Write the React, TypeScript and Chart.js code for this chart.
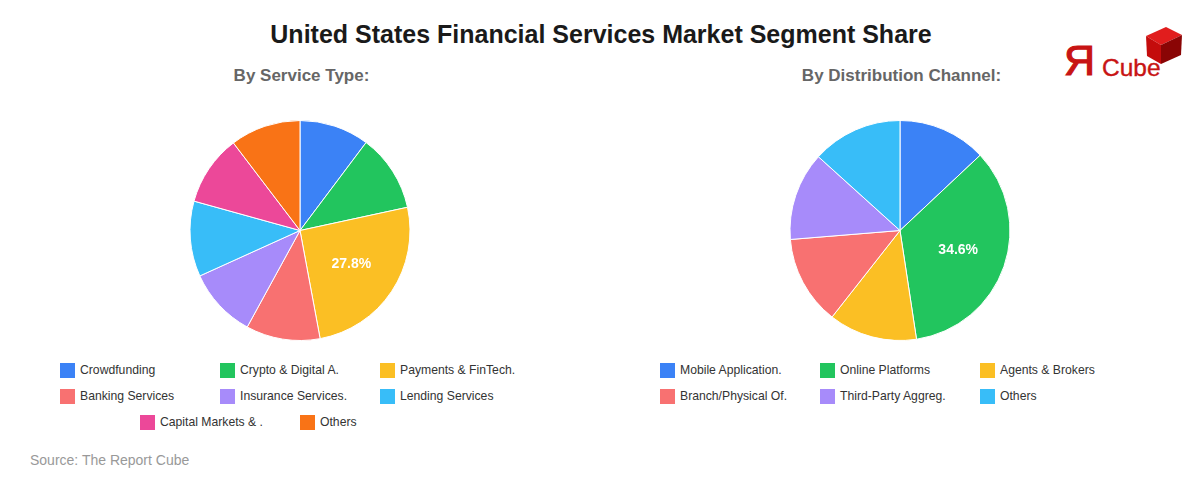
import React, { useEffect, useRef } from "react";
import { Chart, registerables } from "chart.js";

Chart.register(...registerables);

const serviceLabels = [
  "Crowdfunding",
  "Crypto & Digital A.",
  "Payments & FinTech.",
  "Banking Services",
  "Insurance Services.",
  "Lending Services",
  "Capital Markets & .",
  "Others",
];
const serviceValues = [11.2, 12.4, 27.8, 11.9, 11.2, 12.1, 11.3, 11.3];
const serviceColors = ["#3B82F6", "#22C55E", "#FBBF24", "#F87171", "#A78BFA", "#38BDF8", "#EC4899", "#F97316"];

const channelLabels = [
  "Mobile Application.",
  "Online Platforms",
  "Agents & Brokers",
  "Branch/Physical Of.",
  "Third-Party Aggreg.",
  "Others",
];
const channelValues = [13.0, 34.6, 13.0, 13.1, 13.0, 13.3];
const channelColors = ["#3B82F6", "#22C55E", "#FBBF24", "#F87171", "#A78BFA", "#38BDF8"];

const FONT = "'Liberation Sans', Arial, Helvetica, sans-serif";

const maxLabelPlugin = {
  id: "maxLabel",
  afterDatasetsDraw(chart: any) {
    const ds = chart.data.datasets[0];
    const vals: number[] = ds.data;
    let mi = 0;
    vals.forEach((v, i) => {
      if (v > vals[mi]) mi = i;
    });
    const arc: any = chart.getDatasetMeta(0).data[mi];
    if (!arc) return;
    const { x, y, startAngle, endAngle, outerRadius } = arc.getProps(
      ["x", "y", "startAngle", "endAngle", "outerRadius"],
      true
    );
    const mid = (startAngle + endAngle) / 2;
    const r = outerRadius * 0.56;
    const ctx = chart.ctx;
    ctx.save();
    ctx.font = `bold 14px ${FONT}`;
    ctx.fillStyle = "#ffffff";
    ctx.textAlign = "center";
    ctx.textBaseline = "middle";
    ctx.fillText(vals[mi].toFixed(1) + "%", x + Math.cos(mid) * r, y + Math.sin(mid) * r);
    ctx.restore();
  },
};

function Pie({ labels, values, colors, left }: { labels: string[]; values: number[]; colors: string[]; left: number }) {
  const ref = useRef<HTMLCanvasElement | null>(null);
  useEffect(() => {
    if (!ref.current) return;
    const chart = new Chart(ref.current, {
      type: "pie",
      data: {
        labels,
        datasets: [
          {
            data: values,
            backgroundColor: colors,
            borderColor: "#ffffff",
            borderWidth: 1,
          },
        ],
      },
      options: {
        animation: false,
        responsive: true,
        maintainAspectRatio: false,
        layout: { padding: 0 },
        plugins: {
          legend: { display: false },
          tooltip: { enabled: false },
        },
      },
      plugins: [maxLabelPlugin],
    });
    return () => chart.destroy();
  }, []);
  return (
    <div style={{ position: "absolute", left, top: 120, width: 600, height: 221 }}>
      <canvas ref={ref} />
    </div>
  );
}

function Legend({ labels, colors, left }: { labels: string[]; colors: string[]; left: number }) {
  return (
    <div
      style={{
        position: "absolute",
        left,
        top: 357,
        width: 480,
        display: "flex",
        flexWrap: "wrap",
        justifyContent: "center",
      }}
    >
      {labels.map((l, i) => (
        <div
          key={i}
          style={{ width: 160, height: 26, display: "flex", alignItems: "center", fontFamily: FONT, fontSize: 12.2, color: "#333" }}
        >
          <span style={{ display: "inline-block", width: 15, height: 15, background: colors[i], marginRight: 5, flex: "none" }} />
          <span>{l}</span>
        </div>
      ))}
    </div>
  );
}

function Logo() {
  return (
    <svg
      style={{ position: "absolute", left: 1055, top: 22, overflow: "visible" }}
      width={135}
      height={60}
      viewBox="1055 22 135 60"
    >
      <polygon points="1166,27 1182,35 1161,45 1146,36" fill="#e11d1d" />
      <polygon points="1146,36 1161,45 1161,64 1147,56" fill="#c40c0c" />
      <polygon points="1161,45 1182,35 1181,55 1161,64" fill="#8a0505" />
      <text x={1064} y={75} fontFamily={FONT} fontSize={43} fill="#c81414" stroke="#c81414" strokeWidth={1.2}>
        Я
      </text>
      <text x={1102} y={76} fontFamily={FONT} fontSize={24.5} fill="#c81414" stroke="#c81414" strokeWidth={0.4}>
        Cube
      </text>
    </svg>
  );
}

export default function App() {
  return (
    <div
      style={{
        position: "absolute",
        left: 0,
        top: 0,
        width: 1200,
        height: 480,
        background: "#ffffff",
        overflow: "hidden",
        fontFamily: FONT,
      }}
    >
      <div
        style={{
          position: "absolute",
          left: 0,
          top: 19,
          width: 1202,
          textAlign: "center",
          fontSize: 25,
          lineHeight: "30px",
          fontWeight: "bold",
          color: "#1a1a1a",
        }}
      >
        United States Financial Services Market Segment Share
      </div>
      <Logo />
      <div
        style={{
          position: "absolute",
          left: 0,
          top: 66,
          width: 603,
          textAlign: "center",
          fontSize: 17,
          lineHeight: "20px",
          fontWeight: "bold",
          color: "#666",
        }}
      >
        By Service Type:
      </div>
      <div
        style={{
          position: "absolute",
          left: 600,
          top: 66,
          width: 603,
          textAlign: "center",
          fontSize: 17,
          lineHeight: "20px",
          fontWeight: "bold",
          color: "#666",
        }}
      >
        By Distribution Channel:
      </div>
      <Pie labels={serviceLabels} values={serviceValues} colors={serviceColors} left={0} />
      <Pie labels={channelLabels} values={channelValues} colors={channelColors} left={600} />
      <Legend labels={serviceLabels} colors={serviceColors} left={60} />
      <Legend labels={channelLabels} colors={channelColors} left={660} />
      <div
        style={{
          position: "absolute",
          left: 30,
          top: 450,
          fontSize: 14,
          lineHeight: "20px",
          color: "#999",
        }}
      >
        Source: The Report Cube
      </div>
    </div>
  );
}
